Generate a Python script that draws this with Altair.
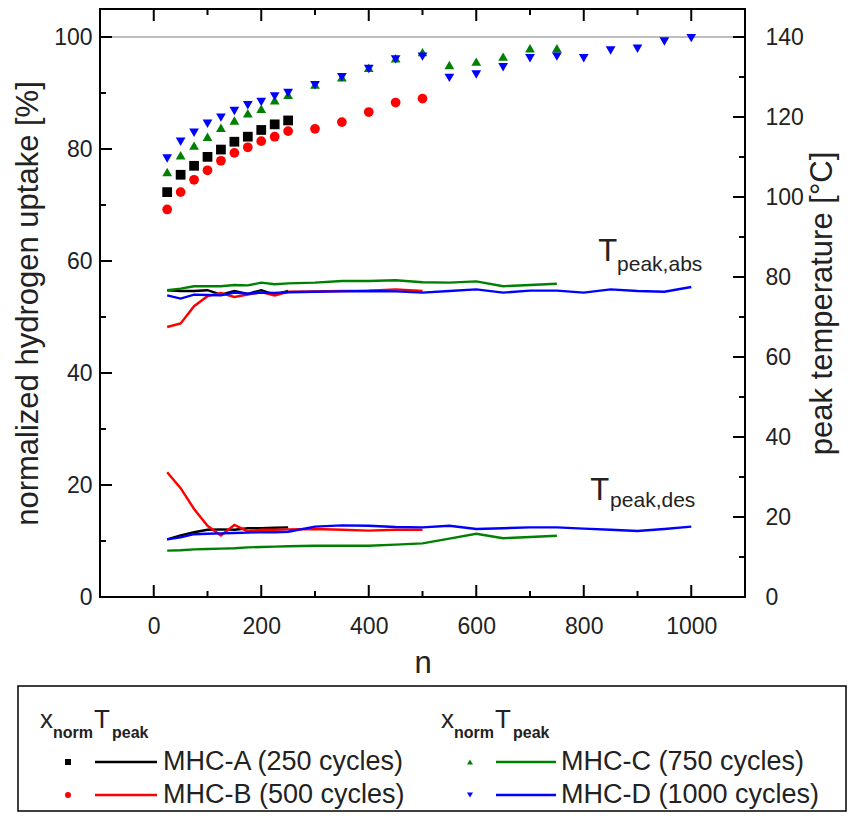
import altair as alt
import pandas as pd

SERIES = ["MHC-A (250 cycles)", "MHC-B (500 cycles)", "MHC-C (750 cycles)", "MHC-D (1000 cycles)"]
COLORS = ["#000000", "#ff0000", "#008000", "#0000ff"]
SHAPES = ["square", "circle", "triangle-up", "triangle-down"]

N_A = [25, 50, 75, 100, 125, 150, 175, 200, 225, 250]
N_B = N_A + [300, 350, 400, 450, 500]
N_C = N_B + [550, 600, 650, 700, 750]
N_D = N_C + [800, 850, 900, 950, 1000]

# normalized hydrogen uptake [%]
XNORM_A = [72.3, 75.4, 77.0, 78.6, 79.9, 81.3, 82.2, 83.4, 84.4, 85.1]
XNORM_B = [69.2, 72.3, 74.5, 76.2, 77.9, 79.3, 80.3, 81.4, 82.2, 83.2, 83.6, 84.8, 86.6, 88.3, 89.0]
XNORM_C = [75.9, 78.9, 80.6, 82.2, 83.8, 85.1, 86.4, 87.2, 88.7, 89.7, 91.5, 92.8, 94.5, 96.2, 97.3,
           95.0, 95.6, 96.5, 98.0, 98.0]
XNORM_D = [78.3, 81.3, 82.9, 84.5, 85.6, 86.8, 87.8, 88.4, 89.4, 90.0, 91.4, 92.8, 94.3, 96.0, 96.5,
           92.7, 93.3, 94.6, 96.2, 96.5, 96.2, 97.6, 97.9, 99.2, 99.8]

# peak temperature, absorption [°C]
TABS_A = [76.7, 76.5, 76.5, 76.7, 75.6, 76.5, 75.8, 76.7, 75.6, 76.5]
TABS_B = [67.5, 68.4, 72.7, 75.2, 76.0, 75.0, 75.6, 76.2, 75.4, 76.3, 76.4, 76.5, 76.6, 76.9, 76.5]
TABS_C = [76.7, 77.1, 77.7, 77.7, 77.7, 78.0, 77.9, 78.6, 78.2, 78.4, 78.6, 79.0, 79.0, 79.2, 78.7,
          78.6, 78.9, 77.7, 78.0, 78.3]
TABS_D = [75.4, 74.6, 75.6, 75.5, 75.4, 76.1, 75.8, 76.1, 76.0, 76.2, 76.3, 76.4, 76.5, 76.4, 76.1,
          76.5, 76.9, 76.1, 76.6, 76.6, 76.1, 76.9, 76.5, 76.3, 77.5]

# peak temperature, desorption [°C]
TDES_A = [14.4, 15.4, 16.2, 16.8, 16.9, 16.8, 17.2, 17.2, 17.3, 17.4]
TDES_B = [31.2, 27.2, 22.0, 17.8, 15.4, 18.0, 16.4, 16.8, 16.8, 16.9, 17.0, 16.8, 16.6, 16.8, 16.8]
TDES_C = [11.6, 11.7, 11.9, 12.0, 12.1, 12.2, 12.4, 12.5, 12.6, 12.7, 12.8, 12.8, 12.8, 13.1, 13.4,
          14.6, 15.8, 14.7, 15.0, 15.3]
TDES_D = [14.4, 14.9, 15.7, 15.8, 15.9, 16.0, 16.1, 16.2, 16.2, 16.3, 17.6, 17.9, 17.8, 17.5, 17.4,
          17.8, 17.0, 17.2, 17.4, 17.4, 17.1, 16.8, 16.5, 17.0, 17.6]

X_TICKS_MAJOR = [0, 200, 400, 600, 800, 1000]
X_TICKS_MINOR = [100, 300, 500, 700, 900]
YL_TICKS_MAJOR = [0, 20, 40, 60, 80, 100]
YL_TICKS_MINOR = [10, 30, 50, 70, 90]
YR_TICKS_MAJOR = [0, 20, 40, 60, 80, 100, 120, 140]
YR_TICKS_MINOR = [10, 30, 50, 70, 90, 110, 130]
REF_LINE = [100]

ANN_N = [827, 812]
ANN_T = [83.9, 24.3]
ANN_SUB_N = [862, 849]
ANN_SUB_T = [81.6, 22.4]
ANN_SUB_TEXT = ["peak,abs", "peak,des"]

# ---------------- layout ----------------
W, H = 645, 588
FONT = "Liberation Sans"
MAJ, MIN = 12, 6
MARK_SIZES = [95, 95, 125, 125]
TICK_FS, TITLE_FS = 23, 31

pts, lns = [], []
for s, ns, xs_, ta, td in zip(SERIES, [N_A, N_B, N_C, N_D],
                              [XNORM_A, XNORM_B, XNORM_C, XNORM_D],
                              [TABS_A, TABS_B, TABS_C, TABS_D],
                              [TDES_A, TDES_B, TDES_C, TDES_D]):
    for n, v in zip(ns, xs_):
        pts.append({"series": s, "n": n, "xnorm": v})
    for n, v in zip(ns, ta):
        lns.append({"series": s, "kind": "abs", "n": n, "T": v})
    for n, v in zip(ns, td):
        lns.append({"series": s, "kind": "des", "n": n, "T": v})
pts_df = pd.DataFrame(pts)
lns_df = pd.DataFrame(lns)

xs = alt.Scale(domain=[-100, 1100], nice=False, zero=False)
yl = alt.Scale(domain=[0, 105], nice=False, zero=False)
yr = alt.Scale(domain=[0, 147], nice=False, zero=False)
color = alt.Color("series:N", scale=alt.Scale(domain=SERIES, range=COLORS), legend=None)
shape = alt.Shape("series:N", scale=alt.Scale(domain=SERIES, range=SHAPES), legend=None)
msize = alt.Size("series:N", scale=alt.Scale(domain=SERIES, range=MARK_SIZES), legend=None)

x_axis = alt.Axis(values=X_TICKS_MAJOR, title="n", labelFontSize=TICK_FS, titleFontSize=TITLE_FS,
                  labelPadding=18, titlePadding=10, format="d")
left_axis = alt.Axis(values=YL_TICKS_MAJOR, orient="left", title="normalized hydrogen uptake [%]",
                     labelFontSize=TICK_FS, titleFontSize=TITLE_FS, labelPadding=8, titlePadding=9,
                     format="d")
right_axis = alt.Axis(values=YR_TICKS_MAJOR, orient="right", title="peak temperature [°C]",
                      labelFontSize=TICK_FS, titleFontSize=TITLE_FS, labelPadding=20, titlePadding=4,
                      titleAngle=270, titleBaseline="top", format="d")

X = lambda f: alt.X(f, scale=xs, axis=x_axis)
YL = lambda f: alt.Y(f, scale=yl, axis=left_axis)
YR = lambda f: alt.Y(f, scale=yr, axis=right_axis)

ref = alt.Chart(pd.DataFrame({"v": REF_LINE})).mark_rule(color="#a8a8a8", strokeWidth=1.5).encode(
    y=YL("v:Q"), x=alt.value(0), x2=alt.value(W))

points = alt.Chart(pts_df).mark_point(filled=True, opacity=1).encode(
    x=X("n:Q"), y=YL("xnorm:Q"), color=color, shape=shape, size=msize)

def xticks(vals, top, length):
    y0 = 0 if top else H
    y1 = length if top else H - length
    return alt.Chart(pd.DataFrame({"n": vals})).mark_rule(color="black", strokeWidth=2).encode(
        x=X("n:Q"), y=alt.value(y0), y2=alt.value(y1))

def yticks(vals, Y, field, right, length):
    x0 = W if right else 0
    x1 = W - length if right else length
    return alt.Chart(pd.DataFrame({field: vals})).mark_rule(color="black", strokeWidth=2).encode(
        y=Y(field + ":Q"), x=alt.value(x0), x2=alt.value(x1))

lines = alt.Chart(lns_df).mark_line(strokeWidth=2.4).encode(
    x=X("n:Q"), y=YR("T:Q"), color=color, detail="kind:N", order="n:Q")

ann_T = alt.Chart(pd.DataFrame({"n": ANN_N, "T": ANN_T})).mark_text(
    text="T", font=FONT, fontSize=31, align="left", baseline="alphabetic", color="#222").encode(
    x=X("n:Q"), y=YR("T:Q"))
ann_sub = alt.Chart(pd.DataFrame({"n": ANN_SUB_N, "T": ANN_SUB_T, "t": ANN_SUB_TEXT})).mark_text(
    font=FONT, fontSize=21, align="left", baseline="alphabetic", color="#222").encode(
    x=X("n:Q"), y=YR("T:Q"), text="t:N")

# ---------------- legend (layout in pixels, relative to plot origin) ----------------
COL_MARK_X = [-32, 370]
COL_LINE_X0 = [-5, 396]
COL_LINE_X1 = [57, 456]
COL_TEXT_X = [63, 461]
ROW_Y = [753, 786]
leg = []
for i, s in enumerate(SERIES):
    c, r = i // 2, i % 2
    leg.append({"series": s, "mx": COL_MARK_X[c], "lx0": COL_LINE_X0[c], "lx1": COL_LINE_X1[c],
                "tx": COL_TEXT_X[c], "my": ROW_Y[r]})
leg_df = pd.DataFrame(leg)

leg_box = alt.Chart(pd.DataFrame({"a": [0]})).mark_rect(filled=False, stroke="black", strokeWidth=1.5).encode(
    x=alt.value(-82), x2=alt.value(746), y=alt.value(677), y2=alt.value(802))
leg_mark = alt.Chart(leg_df).mark_point(filled=True, size=36, opacity=1).encode(
    x=alt.X("mx:Q", scale=None), y=alt.Y("my:Q", scale=None), color=color, shape=shape)
leg_line = alt.Chart(leg_df).mark_rule(strokeWidth=2.5).encode(
    x=alt.X("lx0:Q", scale=None), x2="lx1:Q", y=alt.Y("my:Q", scale=None), color=color)
leg_text = alt.Chart(leg_df).mark_text(font=FONT, fontSize=27, align="left", baseline="middle",
                                        color="#222").encode(
    x=alt.X("tx:Q", scale=None), y=alt.Y("my:Q", scale=None), text="series:N")

HEAD_X = [-60, 341]
headers = []
for hx in HEAD_X:
    headers.append(alt.Chart(pd.DataFrame({"a": [0]})).mark_text(
        text="x", font=FONT, fontSize=26, align="left", baseline="alphabetic", color="#222").encode(
        x=alt.value(hx), y=alt.value(719)))
    headers.append(alt.Chart(pd.DataFrame({"a": [0]})).mark_text(
        text="norm", font=FONT, fontSize=16, fontWeight="bold", align="left", baseline="alphabetic",
        color="#222").encode(x=alt.value(hx + 13), y=alt.value(729)))
    headers.append(alt.Chart(pd.DataFrame({"a": [0]})).mark_text(
        text="T", font=FONT, fontSize=26, align="left", baseline="alphabetic", color="#222").encode(
        x=alt.value(hx + 54), y=alt.value(719)))
    headers.append(alt.Chart(pd.DataFrame({"a": [0]})).mark_text(
        text="peak", font=FONT, fontSize=16, fontWeight="bold", align="left", baseline="alphabetic",
        color="#222").encode(x=alt.value(hx + 72), y=alt.value(729)))

left = alt.layer(
    ref, points,
    yticks(YL_TICKS_MAJOR, YL, "xnorm", False, MAJ), yticks(YL_TICKS_MINOR, YL, "xnorm", False, MIN),
    xticks(X_TICKS_MAJOR, False, MAJ), xticks(X_TICKS_MINOR, False, MIN),
    xticks(X_TICKS_MAJOR, True, MAJ), xticks(X_TICKS_MINOR, True, MIN),
)
right = alt.layer(
    lines, ann_T, ann_sub,
    yticks(YR_TICKS_MAJOR, YR, "T", True, MAJ), yticks(YR_TICKS_MINOR, YR, "T", True, MIN),
)
legend = alt.layer(leg_box, leg_line, leg_mark, leg_text, *headers)

chart = alt.layer(left, right, legend).resolve_scale(y="independent").properties(
    width=W, height=H,
    padding={"left": 92, "top": 1, "right": 104, "bottom": 216},
    autosize=alt.AutoSizeParams(type="none"),
).configure_view(stroke="black", strokeWidth=2).configure_axis(
    labelFont=FONT, titleFont=FONT, labelColor="#222", titleColor="#222", titleFontWeight="normal",
    grid=False, domain=False, ticks=False,
)

chart.save("out.html", embed_options={"renderer": "svg", "actions": False})
